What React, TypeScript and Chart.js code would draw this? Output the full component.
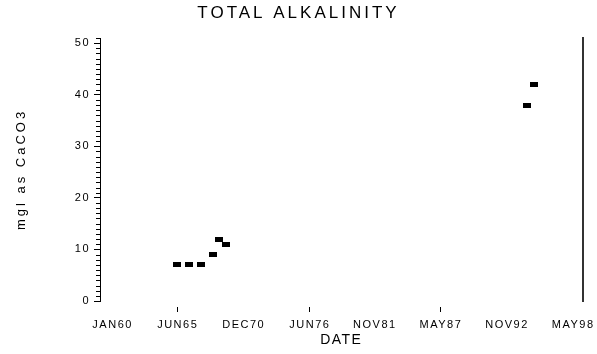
import React, { useEffect, useRef } from 'react';
import { Chart, registerables } from 'chart.js';

Chart.register(...registerables);

const titleText = 'TOTAL ALKALINITY';
const xAxisTitle = 'DATE';
const yAxisTitle = 'mgl as CaCO3';

// sample dates as decimal years, alkalinity in mg/l as CaCO3
const sampleDates = [1965.33, 1966.33, 1967.33, 1968.32, 1968.82, 1969.4, 1994.47, 1995.05];
const alkalinity = [7, 7, 7, 9, 12, 11, 38, 42];

const dateTickLabels = ['JAN60', 'JUN65', 'DEC70', 'JUN76', 'NOV81', 'MAY87', 'NOV92', 'MAY98'];
const dateTickValues = [1960, 1965.417, 1970.917, 1976.417, 1981.833, 1987.333, 1992.833, 1998.333];
const markedDateTicks = ['JUN65', 'JUN76', 'MAY87'];
const yMajorStep = 10;
const yMinorStep = 1;

const FONT = "'Liberation Sans', Arial, sans-serif";

const spacingPlugin = {
  id: 'letterSpacing',
  beforeDraw(chart: any) {
    (chart.ctx as any).letterSpacing = '3px';
  },
  afterDatasetsDraw(chart: any) {
    (chart.ctx as any).letterSpacing = '1.5px';
  },
  afterDraw(chart: any) {
    (chart.ctx as any).letterSpacing = '0px';
    // minor tick marks on the y axis, placed through the y scale
    const scale = chart.scales.y;
    const ctx = chart.ctx;
    const x = chart.chartArea.left;
    ctx.save();
    ctx.setLineDash([]);
    ctx.strokeStyle = '#000';
    ctx.lineWidth = 1;
    ctx.beginPath();
    for (let v = 1; v <= 51; v += yMinorStep) {
      if (v % yMajorStep === 0) continue;
      const y = Math.round(scale.getPixelForValue(v)) + 0.5;
      ctx.moveTo(x - 4, y);
      ctx.lineTo(x, y);
    }
    ctx.stroke();
    ctx.restore();
  },
};

export default function App() {
  const canvasRef = useRef<HTMLCanvasElement | null>(null);

  useEffect(() => {
    const canvas = canvasRef.current;
    if (!canvas) return;
    const marker = document.createElement('canvas');
    marker.width = 8;
    marker.height = 5;
    const mctx = marker.getContext('2d');
    if (mctx) {
      mctx.fillStyle = '#000';
      mctx.fillRect(0, 0, 8, 5);
    }

    const chart = new Chart(canvas, {
      type: 'scatter',
      data: {
        datasets: [
          {
            data: sampleDates.map((x, i) => ({ x, y: alkalinity[i] })),
            pointStyle: marker as any,
            pointRadius: 4,
            showLine: false,
            backgroundColor: '#000',
            borderColor: '#000',
          },
        ],
      },
      plugins: [spacingPlugin],
      options: {
        animation: false,
        responsive: false,
        layout: { padding: 0 },
        plugins: {
          legend: { display: false },
          tooltip: { enabled: false },
          title: {
            display: true,
            text: titleText,
            color: '#000',
            font: { family: FONT, size: 17, weight: 'normal' },
            padding: { top: 3, bottom: 14.6 },
          },
        },
        scales: {
          x: {
            type: 'linear',
            position: 'bottom',
            min: 1958.95,
            max: 1999.12,
            afterFit: (s: any) => {
              s.height = 53;
            },
            afterBuildTicks: (s: any) => {
              s.ticks = dateTickValues.map((v) => ({ value: v }));
            },
            border: { display: false },
            grid: {
              display: true,
              drawOnChartArea: false,
              drawTicks: true,
              tickLength: 11,
              z: 1,
              tickWidth: 1,
              tickColor: (c: any) =>
                markedDateTicks.includes(dateTickLabels[c.index]) ? '#000' : 'rgba(0,0,0,0)',
              tickBorderDash: [0, 6, 5, 20],
            } as any,
            ticks: {
              autoSkip: false,
              maxRotation: 0,
              padding: 6,
              color: '#000',
              z: 1,
              font: { family: FONT, size: 11 },
              callback: (_v: any, i: number) => dateTickLabels[i],
            },
            title: {
              display: true,
              text: xAxisTitle,
              color: '#000',
              font: { family: FONT, size: 14 },
              padding: { top: 0, bottom: 5 },
            },
          },
          y: {
            type: 'linear',
            position: 'left',
            min: 0,
            max: 51,
            afterFit: (s: any) => {
              s.width = 100;
            },
            afterBuildTicks: (s: any) => {
              const t: any[] = [];
              for (let v = 0; v <= 50; v += yMajorStep) t.push({ value: v });
              s.ticks = t;
            },
            border: { display: true, color: '#000', width: 1 },
            grid: {
              display: true,
              drawOnChartArea: false,
              drawTicks: true,
              tickLength: 6,
              tickColor: '#000',
              tickWidth: 1,
            },
            ticks: {
              autoSkip: false,
              padding: 4,
              color: '#000',
              z: 1,
              font: { family: FONT, size: 11 },
            },
            title: {
              display: true,
              text: yAxisTitle,
              color: '#000',
              font: { family: FONT, size: 13 },
              padding: { top: 14, bottom: 0 },
            },
          },
          y2: {
            type: 'linear',
            position: 'right',
            min: 0,
            max: 51,
            afterFit: (s: any) => {
              s.width = 13;
            },
            border: { display: true, color: '#333', width: 2 },
            grid: { display: false },
            ticks: { display: false },
          },
        },
      } as any,
    });

    return () => {
      chart.destroy();
    };
  }, []);

  return (
    <div style={{ position: 'fixed', left: 0, top: 0, width: 597, height: 354, background: '#fff' }}>
      <canvas ref={canvasRef} width={597} height={354} style={{ display: 'block' }} />
    </div>
  );
}
